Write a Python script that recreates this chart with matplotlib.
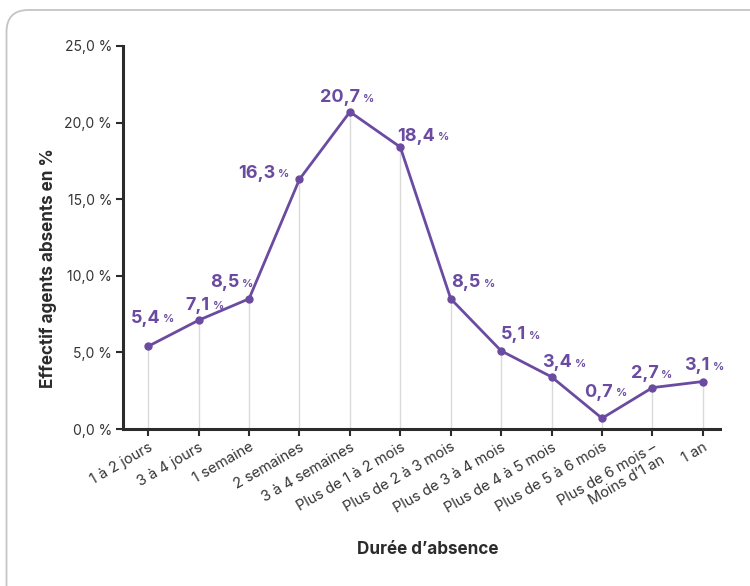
import matplotlib
matplotlib.use("Agg")
import matplotlib.pyplot as plt
from matplotlib.patches import FancyBboxPatch
from matplotlib.transforms import IdentityTransform

plt.rcParams['font.family'] = ['Inter', 'DejaVu Sans']

categories = [
    "1 à 2 jours", "3 à 4 jours", "1 semaine", "2 semaines", "3 à 4 semaines",
    "Plus de 1 à 2 mois", "Plus de 2 à 3 mois", "Plus de 3 à 4 mois",
    "Plus de 4 à 5 mois", "Plus de 5 à 6 mois",
    "Plus de 6 mois –\nMoins d’1 an", "1 an",
]
values = [5.4, 7.1, 8.5, 16.3, 20.7, 18.4, 8.5, 5.1, 3.4, 0.7, 2.7, 3.1]
y_ticks = [0, 5, 10, 15, 20, 25]

# label placement (pixel offsets of label centre from each point)
label_dx = [4, 3, -18, -32, 2, 27, 22, 17, 12, 3, -2, -1]
label_dy = [28, 15, 16, 6, 14, 11, 16, 16, 14, 26, 14, 16]

PURPLE = "#6a4ba1"
DARK = "#2b2b2b"
TEXT = "#333333"

fig = plt.figure(figsize=(7.5, 5.86), dpi=100)
ax = fig.add_axes([123 / 750, 1 - 429 / 586, (720 - 123) / 750, (429 - 46) / 586])

x = list(range(len(categories)))

ax.vlines(x, 0, values, colors="#dadada", linewidth=1.0, zorder=1)
ax.plot(x, values, color=PURPLE, linewidth=2.0, marker="o", markersize=5, zorder=3)

for xi, v, dx, dy in zip(x, values, label_dx, label_dy):
    num = f"{v:.1f}".replace(".", ",")
    ax.annotate(num, (xi, v), xytext=(dx + 8, dy), textcoords="offset pixels",
                ha="right", va="center", fontsize=13, fontweight="bold",
                color=PURPLE, zorder=4)
    ax.annotate("%", (xi, v), xytext=(dx + 11, dy - 1), textcoords="offset pixels",
                ha="left", va="center", fontsize=8, fontweight="bold",
                color=PURPLE, zorder=4)

ax.set_xlim(-0.5, len(categories) - 1 + 0.34)
ax.set_ylim(0, 25)
ax.set_yticks(y_ticks)
ax.set_yticklabels([f"{t:.1f} %".replace(".", ",") for t in y_ticks],
                   fontsize=10, color=TEXT)
ax.set_xticks(x)
ax.set_xticklabels(categories, rotation=30, ha="right", rotation_mode="anchor",
                   fontsize=10.5, color=TEXT, linespacing=1.1)

for side in ("top", "right"):
    ax.spines[side].set_visible(False)
for side in ("left", "bottom"):
    ax.spines[side].set_color(DARK)
    ax.spines[side].set_linewidth(2.2)
ax.tick_params(axis="both", colors=DARK, length=5, width=1.5)
ax.tick_params(axis="y", pad=3, labelcolor=TEXT)
ax.tick_params(axis="x", pad=3, labelcolor=TEXT)

ax.set_ylabel("Effectif agents absents en %", fontsize=12.3, fontweight="bold", color=DARK)
ax.yaxis.set_label_coords(-0.11, 0.42)
ax.set_xlabel("Durée d’absence", fontsize=12.3, fontweight="bold", color=DARK)
ax.xaxis.set_label_coords(0.51, -0.292)

# card outline with rounded corner
card = FancyBboxPatch((6.5, -30), 800, 576 + 30, boxstyle="round,pad=0,rounding_size=22",
                      transform=IdentityTransform(), facecolor="none",
                      edgecolor="#c4c4c4", linewidth=1.3)
fig.add_artist(card)

fig.savefig("out.png", dpi=100)
